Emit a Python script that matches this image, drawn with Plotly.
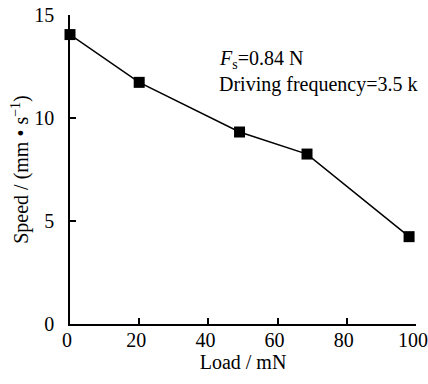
import plotly.graph_objects as go

load_mN = [0, 20, 49, 68.5, 98]
speed = [14.05, 11.73, 9.32, 8.25, 4.24]
x_ticks = [0, 20, 40, 60, 80, 100]
y_ticks = [0, 5, 10, 15]

FONT = "Liberation Serif, Times New Roman, serif"

fig = go.Figure()
fig.add_trace(go.Scatter(
    x=load_mN, y=speed, mode="lines+markers",
    line=dict(color="black", width=1.5),
    marker=dict(symbol="square", size=11, color="black"),
    cliponaxis=False, showlegend=False,
))

fig.add_annotation(x=42.5, y=12.85, xref="x", yref="y", xanchor="left", yanchor="middle",
                   text="<i>F</i><sub>s</sub>=0.84 N", showarrow=False,
                   font=dict(family=FONT, size=20, color="black"))
fig.add_annotation(x=42.5, y=11.65, xref="x", yref="y", xanchor="left", yanchor="middle",
                   text="Driving frequency=3.5 k", showarrow=False,
                   font=dict(family=FONT, size=20, color="black"))

axis_common = dict(
    showgrid=False, zeroline=False, showline=True, linecolor="black", linewidth=1.5,
    ticks="inside", ticklen=6, tickwidth=1.5, tickcolor="black", automargin=False,
    ticklabeloverflow="allow",
    tickfont=dict(family=FONT, size=20, color="black"),
)
fig.update_xaxes(range=[0, 100], tickvals=x_ticks, ticklabelstandoff=-3, ticklabelshift=-3,
                 title=dict(text="Load / mN", standoff=5,
                 font=dict(family=FONT, size=20, color="black")), **axis_common)
fig.update_yaxes(range=[0, 15], tickvals=y_ticks, ticklabelstandoff=10,
                 title=dict(text="Speed / (mm • s<sup>−1</sup>)", standoff=0,
                 font=dict(family=FONT, size=20, color="black")), **axis_common)

fig.update_layout(
    width=428, height=384, margin=dict(l=70, r=12, t=15, b=60),
    paper_bgcolor="white", plot_bgcolor="white",
    font=dict(family=FONT, size=20, color="black"),
)
fig.write_html("out.html", config={"displayModeBar": False},
               post_script="document.body.style.margin='0';")
